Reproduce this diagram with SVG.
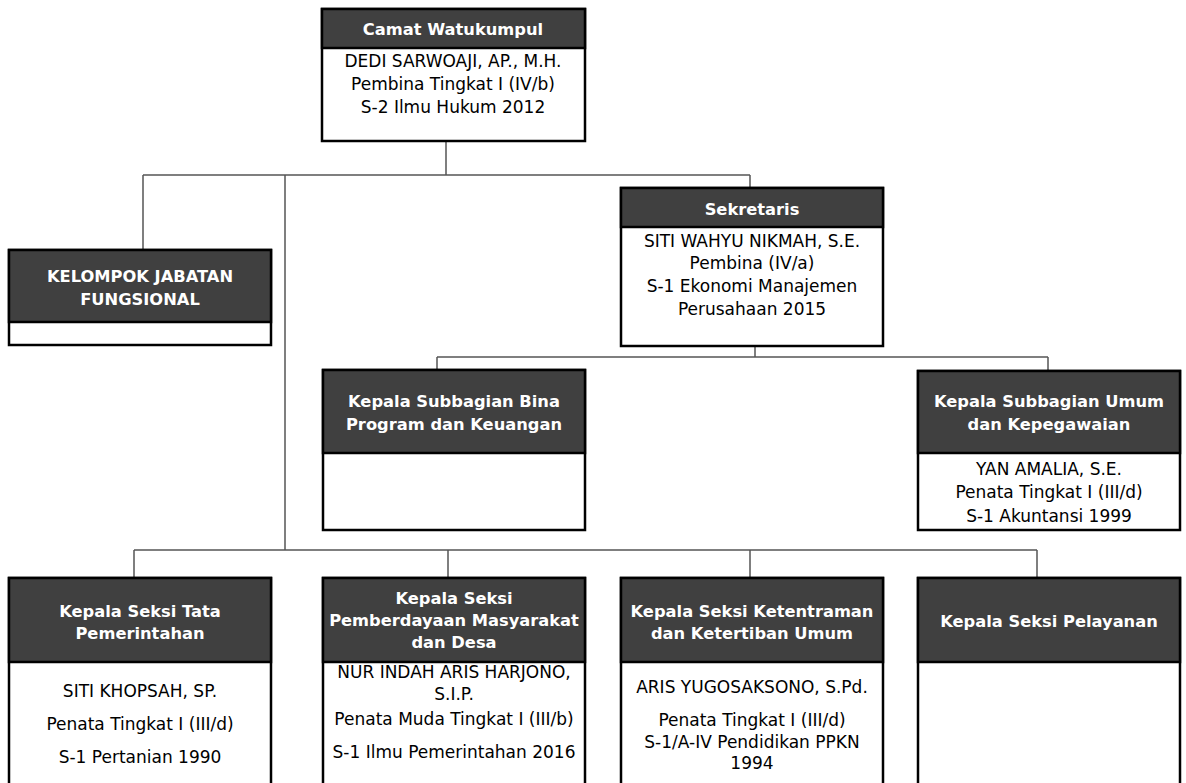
<svg xmlns="http://www.w3.org/2000/svg" width="1186" height="783" viewBox="0 0 1186 783">
<style>
.box{fill:#fff;stroke:#000;stroke-width:2.5}
.hdr{fill:#404040;stroke:#000;stroke-width:2.5}
.ht{font-family:"DejaVu Sans",sans-serif;font-weight:bold;font-size:16.3px;fill:#fff;text-anchor:middle}
.bt{font-family:"DejaVu Sans",sans-serif;font-size:17px;fill:#000;text-anchor:middle}
.con{stroke:#555;stroke-width:1.5;fill:none}
</style>
<rect width="1186" height="783" fill="#fff"/>
<g id="connectors">
<path class="con" d="M446,141V175M143,175H750M143,175V250M750,175V188M285,175V550M755,346V357M437,357H1048M437,357V370M1048,357V371M134,550H1037M134,550V578M448,550V578M750,550V578M1037,550V578"/>
</g>
<g id="camat">
<rect class="box" x="322" y="9" width="263" height="132"/>
<rect class="hdr" x="322" y="9" width="263" height="39"/>
<text class="ht" x="453" y="35">Camat Watukumpul</text>
<text class="bt" x="453" y="67">DEDI SARWOAJI, AP., M.H.</text>
<text class="bt" x="453" y="90">Pembina Tingkat I (IV/b)</text>
<text class="bt" x="453" y="113">S-2 Ilmu Hukum 2012</text>
</g>
<g id="kelompok">
<rect class="box" x="9" y="250" width="262" height="95"/>
<rect class="hdr" x="9" y="250" width="262" height="72"/>
<text class="ht" x="140" y="282">KELOMPOK JABATAN</text>
<text class="ht" x="140" y="305">FUNGSIONAL</text>
</g>
<g id="sekretaris">
<rect class="box" x="621" y="188" width="262" height="158"/>
<rect class="hdr" x="621" y="188" width="262" height="39"/>
<text class="ht" x="752" y="215">Sekretaris</text>
<text class="bt" x="752" y="247">SITI WAHYU NIKMAH, S.E.</text>
<text class="bt" x="752" y="269">Pembina (IV/a)</text>
<text class="bt" x="752" y="292">S-1 Ekonomi Manajemen</text>
<text class="bt" x="752" y="315">Perusahaan 2015</text>
</g>
<g id="subbag-bina">
<rect class="box" x="323" y="370" width="262" height="160"/>
<rect class="hdr" x="323" y="370" width="262" height="83"/>
<text class="ht" x="454" y="407">Kepala Subbagian Bina</text>
<text class="ht" x="454" y="430">Program dan Keuangan</text>
</g>
<g id="subbag-umum">
<rect class="box" x="918" y="371" width="262" height="159"/>
<rect class="hdr" x="918" y="371" width="262" height="82"/>
<text class="ht" x="1049" y="407">Kepala Subbagian Umum</text>
<text class="ht" x="1049" y="430">dan Kepegawaian</text>
<text class="bt" x="1049" y="475">YAN AMALIA, S.E.</text>
<text class="bt" x="1049" y="498">Penata Tingkat I (III/d)</text>
<text class="bt" x="1049" y="522">S-1 Akuntansi 1999</text>
</g>
<g id="seksi-tata">
<rect class="box" x="9" y="578" width="262" height="215"/>
<rect class="hdr" x="9" y="578" width="262" height="84"/>
<text class="ht" x="140" y="617">Kepala Seksi Tata</text>
<text class="ht" x="140" y="639">Pemerintahan</text>
<text class="bt" x="140" y="697">SITI KHOPSAH, SP.</text>
<text class="bt" x="140" y="730">Penata Tingkat I (III/d)</text>
<text class="bt" x="140" y="763">S-1 Pertanian 1990</text>
</g>
<g id="seksi-pemberdayaan">
<rect class="box" x="323" y="578" width="262" height="215"/>
<rect class="hdr" x="323" y="578" width="262" height="84"/>
<text class="ht" x="454" y="604">Kepala Seksi</text>
<text class="ht" x="454" y="626">Pemberdayaan Masyarakat</text>
<text class="ht" x="454" y="648">dan Desa</text>
<text class="bt" x="454" y="678">NUR INDAH ARIS HARJONO,</text>
<text class="bt" x="454" y="700">S.I.P.</text>
<text class="bt" x="454" y="725">Penata Muda Tingkat I (III/b)</text>
<text class="bt" x="454" y="758">S-1 Ilmu Pemerintahan 2016</text>
</g>
<g id="seksi-ketentraman">
<rect class="box" x="621" y="578" width="262" height="215"/>
<rect class="hdr" x="621" y="578" width="262" height="84"/>
<text class="ht" x="752" y="617">Kepala Seksi Ketentraman</text>
<text class="ht" x="752" y="639">dan Ketertiban Umum</text>
<text class="bt" x="752" y="693">ARIS YUGOSAKSONO, S.Pd.</text>
<text class="bt" x="752" y="726">Penata Tingkat I (III/d)</text>
<text class="bt" x="752" y="748">S-1/A-IV Pendidikan PPKN</text>
<text class="bt" x="752" y="769">1994</text>
</g>
<g id="seksi-pelayanan">
<rect class="box" x="918" y="578" width="262" height="215"/>
<rect class="hdr" x="918" y="578" width="262" height="84"/>
<text class="ht" x="1049" y="627">Kepala Seksi Pelayanan</text>
</g>
</svg>
